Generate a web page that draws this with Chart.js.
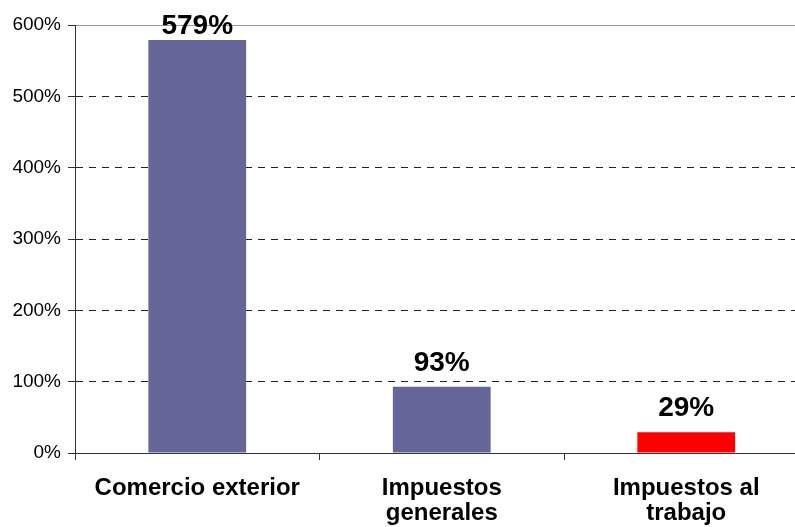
<!DOCTYPE html>
<html>
<head>
<meta charset="utf-8">
<script src="https://cdn.jsdelivr.net/npm/chart.js@4"></script>
<style>
  html, body { margin: 0; padding: 0; background: #fff; overflow: hidden; }
  #wrap { width: 812px; height: 527px; position: relative; }
</style>
</head>
<body>
<div id="wrap"><canvas id="c"></canvas></div>
<script>
const categories = [['Comercio exterior'], ['Impuestos', 'generales'], ['Impuestos al', 'trabajo']];
const values = [579, 93, 29];
const barColors = ['#666699', '#666699', '#ff0000'];
const yTicks = [0, 100, 200, 300, 400, 500, 600];

Chart.defaults.font.family = '"Liberation Sans", Arial, sans-serif';
Chart.defaults.color = '#000';

const valueLabels = {
  id: 'valueLabels',
  afterDatasetsDraw(chart) {
    const ctx = chart.ctx;
    const meta = chart.getDatasetMeta(0);
    ctx.save();
    ctx.font = 'bold 28px "Liberation Sans", Arial, sans-serif';
    ctx.fillStyle = '#000';
    ctx.textAlign = 'center';
    ctx.textBaseline = 'alphabetic';
    meta.data.forEach((bar, i) => {
      const y = Math.max(bar.y - 16, 34);
      ctx.fillText(values[i] + '%', bar.x, y);
    });
    ctx.restore();
  }
};

new Chart(document.getElementById('c'), {
  type: 'bar',
  data: {
    labels: categories,
    datasets: [{
      data: values,
      backgroundColor: barColors,
      borderWidth: 0,
      barPercentage: 0.4,
      categoryPercentage: 1.0
    }]
  },
  options: {
    responsive: true,
    maintainAspectRatio: false,
    animation: false,
    layout: { padding: { left: 0, right: 3.5, top: 25, bottom: 0 } },
    plugins: { legend: { display: false }, tooltip: { enabled: false } },
    scales: {
      x: {
        offset: true,
        grid: { display: true, drawOnChartArea: false, offset: true, tickLength: 7, tickColor: '#333', tickWidth: 1 },
        border: { display: true, color: '#333', width: 1 },
        ticks: {
          autoSkip: false, maxRotation: 0, minRotation: 0, padding: 16,
          color: '#000',
          font: { size: 24, weight: 'bold', lineHeight: '25px' }
        },
        afterFit(scale) { scale.height = 74; }
      },
      y: {
        min: 0, max: 600,
        afterBuildTicks(scale) { scale.ticks = yTicks.map(v => ({ value: v })); },
        grid: {
          tickLength: 7,
          tickColor: '#333',
          lineWidth: 1,
          color(ctx) {
            if (!ctx.tick) return '#222';
            if (ctx.tick.value === 0) return 'rgba(0,0,0,0)';
            if (ctx.tick.value === 600) return '#9a9a9a';
            return '#222';
          }
        },
        border: {
          display: true, color: '#333', width: 1,
          dash(ctx) {
            if (!ctx.tick || ctx.tick.value === 600) return [];
            return [7, 6];
          }
        },
        ticks: {
          padding: 7,
          color: '#000',
          font: { size: 19 },
          callback: v => v + '%'
        },
        afterFit(scale) { scale.width = 75; }
      }
    }
  },
  plugins: [valueLabels]
});
</script>
</body>
</html>
